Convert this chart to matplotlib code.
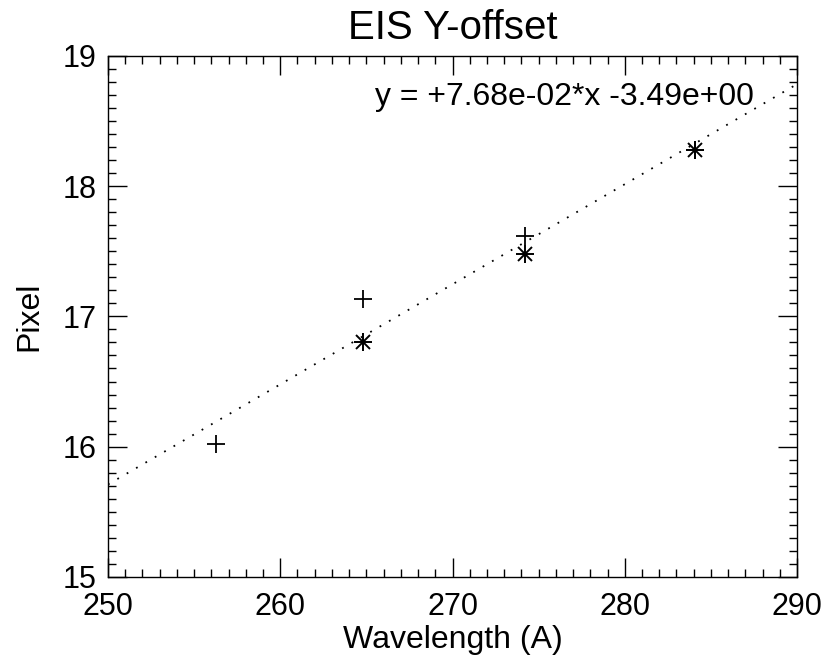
import numpy as np
import matplotlib.pyplot as plt
from matplotlib.ticker import MultipleLocator

plt.rcParams['font.family'] = ['Liberation Sans', 'DejaVu Sans']

# Dati
wl_plus = [256.3, 264.8, 274.2, 284.1]
pix_plus = [16.02, 17.13, 17.62, 18.28]
wl_star = [264.8, 274.2, 284.1]
pix_star = [16.80, 17.48, 18.28]

# Fit lineare riportato
slope = 7.68e-02
intercept = -3.49
x_fit = np.array([250.0, 290.0])
y_fit = slope * x_fit + intercept

fig = plt.figure(figsize=(8.28, 6.61), dpi=100)
ax = fig.add_axes([0.1304, 0.1271, 0.8322, 0.7886])

ax.plot(wl_plus, pix_plus, linestyle='none', marker='+', color='black', markersize=13, markeredgewidth=1.3)
ax.plot(wl_star, pix_star, linestyle='none', marker='+', color='black', markersize=13, markeredgewidth=1.4)
ax.plot(wl_star, pix_star, linestyle='none', marker='x', color='black', markersize=10.5, markeredgewidth=1.4)
ax.plot(x_fit, y_fit, color='black', linewidth=1.3, linestyle=(0, (1, 5)))

ax.set_xlim(250, 290)
ax.set_ylim(15, 19)
ax.xaxis.set_major_locator(MultipleLocator(10))
ax.xaxis.set_minor_locator(MultipleLocator(1))
ax.yaxis.set_major_locator(MultipleLocator(1))
ax.yaxis.set_minor_locator(MultipleLocator(0.1))
ax.tick_params(which='both', direction='in', top=True, right=True, width=1, labelsize=22)
ax.tick_params(axis='x', which='major', pad=11)
ax.tick_params(axis='y', which='major', pad=8)
ax.tick_params(which='major', length=14)
ax.tick_params(which='minor', length=6)
for s in ax.spines.values():
    s.set_linewidth(1)

ax.set_title('EIS Y-offset', fontsize=29, pad=12)
ax.set_xlabel('Wavelength (A)', fontsize=23, labelpad=2)
ax.set_ylabel('Pixel', fontsize=23, labelpad=13)
ax.text(0.3875, 0.9054, 'y = +7.68e-02*x -3.49e+00', transform=ax.transAxes,
        ha='left', va='baseline', fontsize=23)

fig.savefig('out.png', dpi=100)
